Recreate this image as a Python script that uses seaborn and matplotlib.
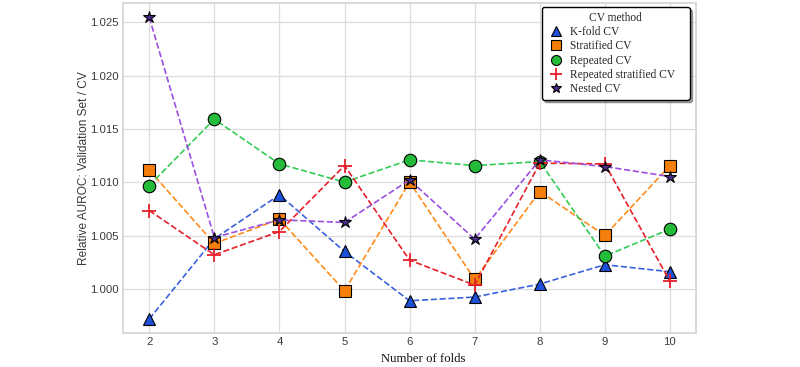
#!/usr/bin/env python3
"""Relative AUROC (validation set / CV) vs number of folds for several CV methods."""

import matplotlib
matplotlib.use("Agg")
import matplotlib.pyplot as plt
import pandas as pd
import seaborn as sns


FOLDS = [2, 3, 4, 5, 6, 7, 8, 9, 10]

KFOLD_CV = [0.99719, 1.00471, 1.00883, 1.00352, 0.99890, 0.99925, 1.00047, 1.00228, 1.00162]
STRATIFIED_CV = [1.01115, 1.00427, 1.00655, 0.99984, 1.01002, 1.00090, 1.00914, 1.00502, 1.01157]
REPEATED_CV = [1.00970, 1.01592, 1.01173, 1.01002, 1.01211, 1.01157, 1.01195, 1.00309, 1.00562]
REPEATED_STRAT_CV = [1.00736, 1.00321, 1.00539, 1.01157, 1.00271, 1.00037, 1.01180, 1.01173, 1.00071]
NESTED_CV = [1.02547, 1.00483, 1.00649, 1.00624, 1.01023, 1.00468, 1.01211, 1.01148, 1.01054]

METHODS = ["K-fold CV", "Stratified CV", "Repeated CV", "Repeated stratified CV", "Nested CV"]

# line colour, marker, marker face, marker edge, marker size
STYLES = {
    "K-fold CV": ("#3a62dd", "^", "#1d4fd8", "black", 9),
    "Stratified CV": ("#ff8c1a", "s", "#f57f0a", "black", 8.5),
    "Repeated CV": ("#33cc55", "o", "#25bb3a", "black", 9),
    "Repeated stratified CV": ("#e8202a", "+", "#e8202a", "#e8202a", 10),
    "Nested CV": ("#9b4fe0", "*", "#4b2c8e", "black", 9),
}


def build_frame():
    values = [KFOLD_CV, STRATIFIED_CV, REPEATED_CV, REPEATED_STRAT_CV, NESTED_CV]
    rows = []
    for name, vals in zip(METHODS, values):
        for k, v in zip(FOLDS, vals):
            rows.append({"folds": k, "ratio": v, "method": name})
    return pd.DataFrame(rows)


def main():
    df = build_frame()

    sns.set_theme(style="whitegrid")
    plt.rcParams["font.family"] = ["Liberation Sans", "DejaVu Sans"]

    fig = plt.figure(figsize=(8, 3.67), dpi=100)
    ax = fig.add_axes([0.154, 0.0926, 0.716, 0.899])

    for name in METHODS:
        line_c, marker, face, edge, size = STYLES[name]
        sub = df[df["method"] == name]
        sns.lineplot(
            data=sub, x="folds", y="ratio", ax=ax,
            color=line_c, linestyle="--", linewidth=1.2,
            marker=marker, markersize=size,
            markerfacecolor=face, markeredgecolor=edge,
            markeredgewidth=0.8 if marker != "+" else 1.3,
            label=name,
        )

    ax.set_xlim(1.6, 10.4)
    ax.set_ylim(0.99588, 1.0268)
    ax.set_xticks(FOLDS)
    ax.set_yticks([1.000, 1.005, 1.010, 1.015, 1.020, 1.025])
    ax.set_yticklabels(["1.000", "1.005", "1.010", "1.015", "1.020", "1.025"])
    ax.tick_params(axis="both", labelsize=8.2, colors="#3a3a3a", length=0, pad=3)
    ax.grid(True, color="#dddddd", linewidth=0.9)
    for s in ax.spines.values():
        s.set_color("#d5d5d5")

    ax.set_xlabel("Number of folds", fontsize=9.2, family=["Liberation Serif"], color="#111111")
    ax.xaxis.set_label_coords((423 - 123) / 573, -0.06)
    ax.set_ylabel("Relative AUROC: Validation Set / CV", fontsize=8.6, color="#3a3a3a", labelpad=0)

    leg = ax.legend(
        title="CV method", loc="upper right",
        bbox_to_anchor=(0.731, 0.0, 0.258, 0.988), mode="expand",
        frameon=True, fancybox=True, shadow=True, edgecolor="black",
        prop={"family": "Liberation Serif", "size": 8.3},
        handletextpad=0.4, labelspacing=0.2, borderaxespad=0.0,
        handlelength=1.6, markerscale=0.8,
    )
    leg.get_title().set_family("Liberation Serif")
    leg.get_title().set_fontsize(8.3)
    leg.get_frame().set_linewidth(1.0)
    for h in leg.legend_handles:
        h.set_linestyle("none")

    fig.savefig("out.png", dpi=100)


if __name__ == "__main__":
    main()
